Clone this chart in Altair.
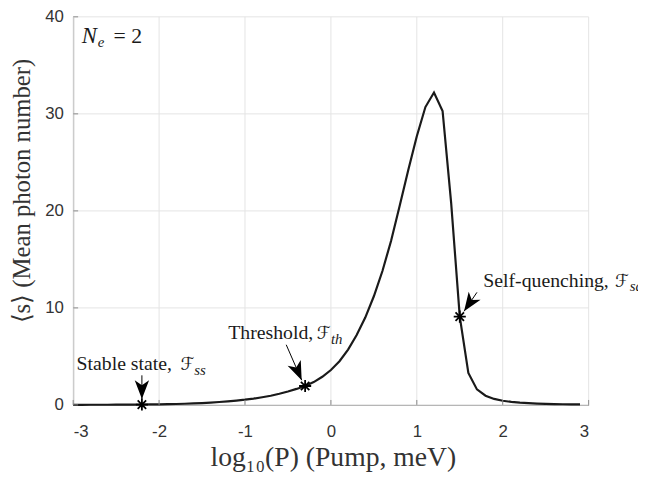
import math
import altair as alt
import pandas as pd

# ---- data ----
log_p = [-3.0, -2.9, -2.8, -2.7, -2.6, -2.5, -2.4, -2.3, -2.2, -2.1,
         -2.0, -1.9, -1.8, -1.7, -1.6, -1.5, -1.4, -1.3, -1.2, -1.1,
         -1.0, -0.9, -0.8, -0.7, -0.6, -0.5, -0.4, -0.3, -0.2, -0.1,
         0.0, 0.1, 0.2, 0.3, 0.4, 0.5, 0.6, 0.7, 0.8, 0.9,
         1.0, 1.1, 1.2, 1.3, 1.4, 1.5, 1.6, 1.7, 1.8, 1.9,
         2.0, 2.1, 2.2, 2.3, 2.4, 2.5, 2.6, 2.7, 2.8, 2.9]
mean_s = [0.010, 0.012, 0.014, 0.017, 0.020, 0.024, 0.029, 0.035, 0.042, 0.050,
          0.060, 0.075, 0.095, 0.12, 0.15, 0.19, 0.24, 0.30, 0.37, 0.45,
          0.54, 0.65, 0.79, 0.95, 1.15, 1.38, 1.65, 1.95, 2.35, 2.9,
          3.6, 4.5, 5.7, 7.2, 9.0, 11.2, 13.8, 16.9, 20.5, 24.2,
          27.7, 30.7, 32.2, 30.3, 20.8, 9.1, 3.3, 1.6, 0.95, 0.62,
          0.43, 0.31, 0.23, 0.18, 0.14, 0.11, 0.09, 0.07, 0.06, 0.05]

x_ticks = [-3, -2, -1, 0, 1, 2, 3]
y_ticks = [0, 10, 20, 30, 40]

mark_x = [-2.2, -0.3, 1.5]
mark_y = [0.04, 1.95, 9.1]

arrow_start_x = [-2.2, -0.52, 1.70]
arrow_start_y = [3.05, 6.2, 11.6]
arrow_tip_x = [-2.2, -0.34, 1.55]
arrow_tip_y = [0.6, 2.55, 9.65]

label_text = ["Stable state,", "Threshold,", "Self-quenching,"]
label_x = [-2.96, -1.195, 1.774]
label_y = [3.6, 6.78, 12.2]
script_x = [-1.75, -0.165, 3.307]
sub_text = ["ss", "th", "sq"]
sub_x = [-1.59, 0.0, 3.48]
sub_y = [3.1, 6.28, 11.7]

ne_text = ["N", "e", "= 2"]
ne_x = [-2.90, -2.715, -2.53]
ne_y = [37.3, 36.9, 37.3]

W, H = 522, 393
XD, YD = [-3, 3], [0, 40]

# ---- tables ----
curve = pd.DataFrame({"x": log_p, "y": mean_s})
marks = pd.DataFrame({"x": mark_x, "y": mark_y})
px_x = W / (XD[1] - XD[0])
px_y = H / (YD[1] - YD[0])
angles = []
for sx, sy, tx, ty in zip(arrow_start_x, arrow_start_y, arrow_tip_x, arrow_tip_y):
    dx = (tx - sx) * px_x
    dy = -(ty - sy) * px_y
    angles.append(math.degrees(math.atan2(dx, -dy)) % 360)
arrows = pd.DataFrame({"x": arrow_start_x, "y": arrow_start_y,
                       "x2": arrow_tip_x, "y2": arrow_tip_y, "ang": angles})
labels = pd.DataFrame({"x": label_x, "y": label_y, "t": label_text})
scripts = pd.DataFrame({"x": script_x, "y": label_y, "t": ["\u2131"] * 3})
subs = pd.DataFrame({"x": sub_x, "y": sub_y, "t": sub_text})
ne_norm = pd.DataFrame({"x": ne_x[2:], "y": ne_y[2:], "t": ne_text[2:]})
ne_ital = pd.DataFrame({"x": ne_x[:2], "y": ne_y[:2], "t": ne_text[:2],
                        "s": [23, 15]})
xt = pd.DataFrame({"x": x_ticks})
yt = pd.DataFrame({"y": y_ticks})

xs = alt.Scale(domain=XD, nice=False, zero=False)
ys = alt.Scale(domain=YD, nice=False, zero=False)
SERIF = "Liberation Serif"
AX = "#8a8a8a"
GRID = "#e4e4e4"

xgrid = alt.Chart(xt).mark_rule(color=GRID, strokeWidth=1).encode(
    x=alt.X("x:Q", scale=xs), y=alt.value(0), y2=alt.value(H))
ygrid = alt.Chart(yt).mark_rule(color=GRID, strokeWidth=1).encode(
    y=alt.Y("y:Q", scale=ys), x=alt.value(0), x2=alt.value(W))

main = alt.Chart(curve).mark_line(color="#1a1a1a", strokeWidth=2.2).encode(
    x=alt.X("x:Q", scale=xs, axis=alt.Axis(
        values=x_ticks, title="log\u2081\u2080(P) (Pump, meV)",
        labelExpr="'' + datum.value", ticks=False, tickSize=0,
        labelPadding=19, labelFontSize=17, labelFont="Liberation Sans",
        labelColor="#333333", titleFont=SERIF, titleFontSize=28,
        titleFontWeight="normal", titleColor="#333333",
        titleBaseline="middle", titleY=53, titleX=W / 2 + 2,
        domainColor=AX, grid=False)),
    y=alt.Y("y:Q", scale=ys, axis=alt.Axis(
        values=y_ticks, title="\u27e8s\u27e9 (Mean photon number)",
        labelExpr="'' + datum.value", ticks=False, tickSize=0,
        labelPadding=10, labelFontSize=17, labelFont="Liberation Sans",
        labelColor="#333333", titleFont=SERIF, titleFontSize=25,
        titleFontWeight="normal", titleColor="#333333",
        titleBaseline="middle", titleX=-52, titleY=176, titleAngle=-90,
        domainColor=AX, grid=False)),
)

xtick_layer = alt.Chart(xt).mark_rule(color=AX, strokeWidth=1).encode(
    x=alt.X("x:Q", scale=xs),
    y=alt.value(H), y2=alt.value(H - 5))
ytick_layer = alt.Chart(yt).mark_rule(color=AX, strokeWidth=1).encode(
    y=alt.Y("y:Q", scale=ys),
    x=alt.value(0), x2=alt.value(5))

star = alt.Chart(marks).mark_point(
    shape="M-1,0L1,0M0,-1L0,1M-0.7,-0.7L0.7,0.7M-0.7,0.7L0.7,-0.7",
    filled=False, size=150, strokeWidth=1.8, color="#000000", opacity=1
).encode(x=alt.X("x:Q", scale=xs), y=alt.Y("y:Q", scale=ys))

shaft = alt.Chart(arrows).mark_rule(color="#000000", strokeWidth=1).encode(
    x=alt.X("x:Q", scale=xs), y=alt.Y("y:Q", scale=ys),
    x2="x2:Q", y2="y2:Q")
head = alt.Chart(arrows).mark_point(
    shape="M0,0L-0.65,1.7L0,1.25L0.65,1.7Z", filled=True, size=500,
    color="#000000", opacity=1, strokeWidth=0
).encode(x=alt.X("x2:Q", scale=xs), y=alt.Y("y2:Q", scale=ys),
         angle=alt.Angle("ang:Q", scale=None))

lab = alt.Chart(labels).mark_text(
    font=SERIF, fontSize=20, align="left", baseline="alphabetic", color="#1a1a1a"
).encode(x=alt.X("x:Q", scale=xs), y=alt.Y("y:Q", scale=ys), text="t:N")
scr = alt.Chart(scripts).mark_text(
    font="DejaVu Sans", fontSize=18, fontStyle="italic", align="left",
    baseline="alphabetic", color="#1a1a1a"
).encode(x=alt.X("x:Q", scale=xs), y=alt.Y("y:Q", scale=ys), text="t:N")
sub = alt.Chart(subs).mark_text(
    font=SERIF, fontSize=15, fontStyle="italic", align="left",
    baseline="alphabetic", color="#1a1a1a"
).encode(x=alt.X("x:Q", scale=xs), y=alt.Y("y:Q", scale=ys), text="t:N")
ne1 = alt.Chart(ne_norm).mark_text(
    font=SERIF, fontSize=22, align="left", baseline="alphabetic", color="#1a1a1a"
).encode(x=alt.X("x:Q", scale=xs), y=alt.Y("y:Q", scale=ys), text="t:N")
ne2 = alt.Chart(ne_ital).mark_text(
    font=SERIF, fontStyle="italic", align="left", baseline="alphabetic", color="#1a1a1a"
).encode(x=alt.X("x:Q", scale=xs), y=alt.Y("y:Q", scale=ys),
         text="t:N", size=alt.Size("s:Q", scale=None))

chart = alt.layer(xgrid, ygrid, main, xtick_layer, ytick_layer, shaft, head, star,
                  lab, scr, sub, ne1, ne2).properties(
    width=W, height=H,
    autosize=alt.AutoSizeParams(type="none"),
    padding={"left": 66, "top": 6, "right": 50, "bottom": 66},
).configure(background="white").configure_view(stroke=None)

chart.save("out.html", embed_options={"renderer": "svg", "actions": False})
